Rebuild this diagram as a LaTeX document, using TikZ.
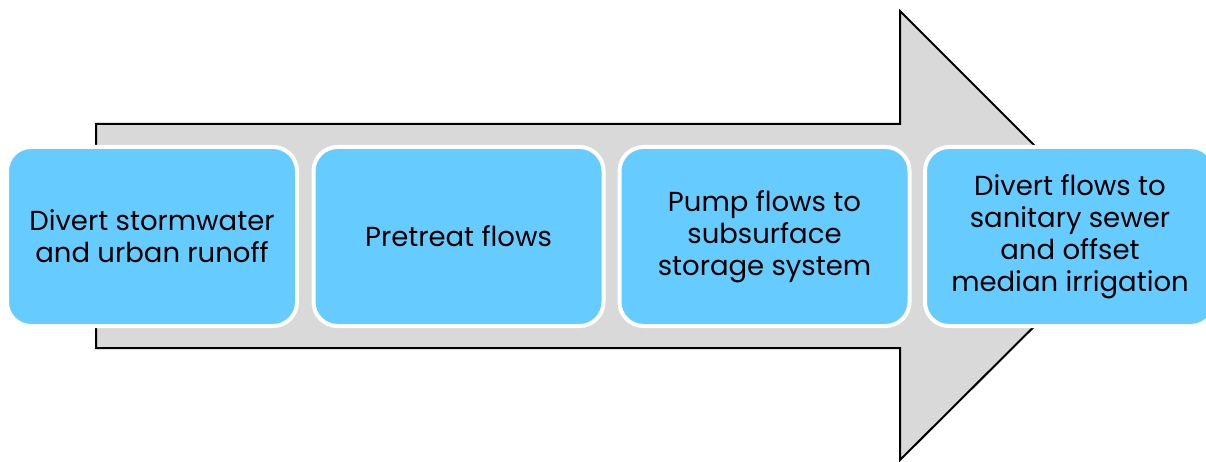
\documentclass[tikz,border=0pt]{standalone}
\usepackage{fontspec}
\setmainfont{Poppins}
\definecolor{boxblue}{HTML}{66CCFF}
\definecolor{arrowgray}{HTML}{D9D9D9}
\tikzset{
  stepbox/.style={draw=white, line width=4pt, fill=boxblue, rounded corners=24pt,
    minimum width=290pt, minimum height=179pt, inner sep=0pt},
  steptext/.style={align=center, font=\fontsize{27.5}{32}\selectfont, text=black},
}
\begin{document}
\begin{tikzpicture}[x=1pt,y=-1pt]
\useasboundingbox (0,0) rectangle (1206,462);
\clip (0,0) rectangle (1206,462);
\draw[fill=arrowgray, line width=2pt, line join=miter]
  (96,124) -- (900,124) -- (900,11) -- (1125,236) -- (900,460) -- (900,348) -- (96,348) -- cycle;
\node[stepbox] (b1) at (152,236.5) {};
\node[stepbox] (b2) at (458.5,236.5) {};
\node[stepbox] (b3) at (764.5,236.5) {};
\node[stepbox] (b4) at (1070,236.5) {};
\node[steptext] (t1) at (b1) {Divert stormwater\\and urban runoff};
\node[steptext] (t2) at (b2) {Pretreat flows};
\node[steptext] (t3) at (b3) {Pump flows to\\subsurface\\storage system};
\node[steptext] (t4) at (b4) {Divert flows to\\sanitary sewer\\and offset\\median irrigation};
\end{tikzpicture}
\end{document}
